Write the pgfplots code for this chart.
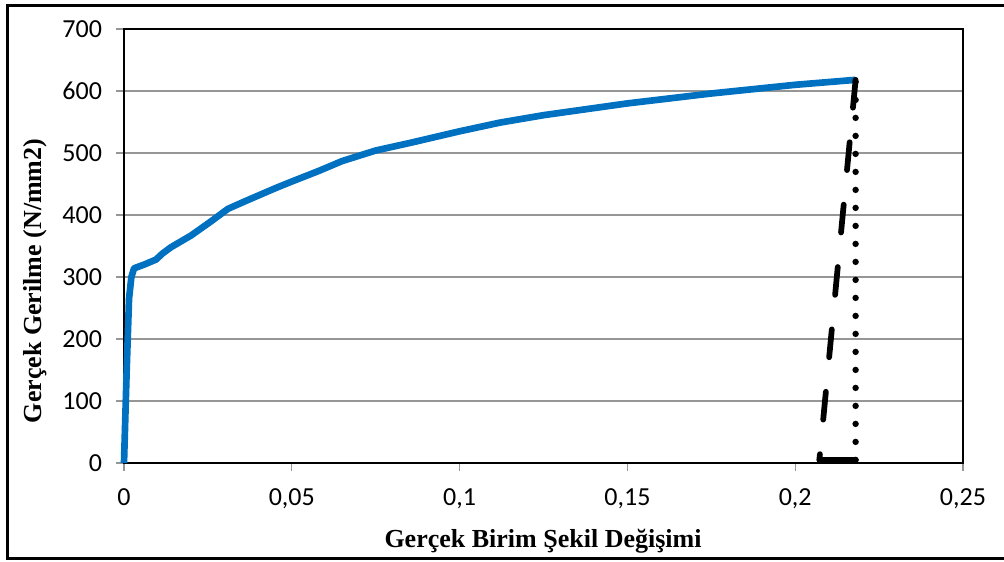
\documentclass[border=0pt]{standalone}
\usepackage{fontspec}
\setmainfont{Liberation Serif}
\newfontfamily\tickfont{Carlito}
\usepackage{pgfplots}
\pgfplotsset{compat=1.18}
\definecolor{curveblue}{RGB}{0,112,192}
\definecolor{gridgray}{RGB}{150,150,150}
\begin{document}
\begin{tikzpicture}
\begin{scope}[x=0.75pt,y=0.75pt]
\useasboundingbox (0,0) rectangle (1004,561);
\draw[line width=2.25pt] (1010,555) -- (7.5,555) -- (7.5,3) -- (1010,3);
\node[font=\bfseries\fontsize{19.5}{22}\selectfont] at (543,20) {Gerçek Birim Şekil Değişimi};
\node[font=\bfseries\fontsize{19.5}{22}\selectfont, rotate=90] at (35,280) {Gerçek Gerilme (N/mm2)};
\end{scope}
\begin{axis}[
  at={(93pt,73.5pt)}, anchor=south west,
  scale only axis,
  width=629.25pt, height=325.5pt,
  xmin=0, xmax=0.25, ymin=0, ymax=700,
  xtick={0,0.05,0.1,0.15,0.2,0.25},
  xticklabels={0,{0,05},{0,1},{0,15},{0,2},{0,25}},
  ytick={0,100,...,700},
  xtick pos=bottom, ytick pos=left,
  ymajorgrids,
  grid style={gridgray, line width=1.2pt},
  tick align=outside,
  major tick length=6pt,
  tick style={gridgray, line width=1pt},
  axis line style={black, line width=1.5pt},
  tick label style={font=\tickfont\fontsize{19.5}{22}\selectfont, text=black},
  xticklabel style={yshift=-10pt},
  yticklabel style={xshift=-7pt},
  /pgf/number format/assume math mode=true,
  clip=false,
]
\addplot[curveblue, line width=5pt, line join=round] coordinates {
(0,0) (0.0008,150) (0.0015,265) (0.0022,300) (0.003,314) (0.006,320)
(0.0095,328) (0.0115,338) (0.014,348) (0.02,367) (0.026,390) (0.031,410)
(0.036,422) (0.045,443) (0.05,454) (0.058,471) (0.065,487) (0.075,504)
(0.085,516) (0.1,535) (0.112,549) (0.125,561) (0.15,580) (0.175,596)
(0.2,610) (0.218,618)
};
\addplot[black, line width=4.3pt, dash pattern=on 21pt off 26pt, line cap=round] coordinates {
(0.218,618) (0.2072,5)
};
\addplot[black, line width=4.3pt, line cap=round] coordinates {
(0.2072,5) (0.218,5)
};
\addplot[black, line width=4.8pt, dash pattern=on 0pt off 13.5pt, line cap=round] coordinates {
(0.218,5) (0.218,618)
};
\end{axis}
\end{tikzpicture}
\end{document}
